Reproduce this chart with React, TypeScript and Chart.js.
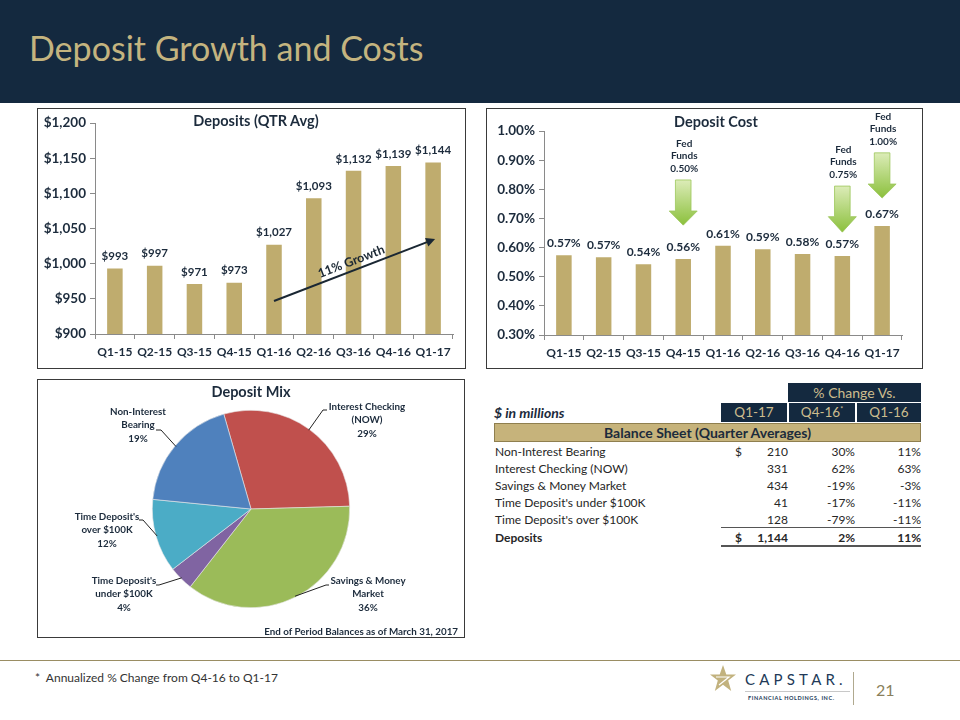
import React, { useEffect, useRef } from 'react';
import { Chart, registerables } from 'chart.js';
Chart.register(...registerables);

// ---------- data ----------
const QUARTERS = ['Q1-15', 'Q2-15', 'Q3-15', 'Q4-15', 'Q1-16', 'Q2-16', 'Q3-16', 'Q4-16', 'Q1-17'];
const DEPOSITS = [993, 997, 971, 973, 1027, 1093, 1132, 1139, 1144];
const DEPOSIT_TICKS = { min: 900, max: 1200, step: 50 };
const GROWTH_LABEL = '11% Growth';
const GROWTH_FROM = [4, 947];
const GROWTH_TO = [8.05, 1035];

const COST = [0.574, 0.567, 0.543, 0.561, 0.606, 0.594, 0.578, 0.571, 0.674];
const COST_TICKS = { min: 0.3, max: 1.0, step: 0.1 };
const FED_INDEX = [3, 7, 8];
const FED_RATE = ['0.50%', '0.75%', '1.00%'];
const FED_ARROW_TOP = [0.832, 0.811, 0.925];
const FED_ARROW_HEAD = [0.7255, 0.706, 0.818];
const FED_ARROW_TIP = [0.677, 0.653, 0.77];

const MIX_NAMES = [
  ['Interest Checking', '(NOW)'],
  ['Savings & Money', 'Market'],
  ["Time Deposit's", 'under $100K'],
  ["Time Deposit's", 'over $100K'],
  ['Non-Interest', 'Bearing'],
];
const MIX_VALUES = [29, 36, 4, 12, 19];
const MIX_COLORS = ['#c0504d', '#9bbb59', '#8064a2', '#4bacc6', '#4f81bd'];

const TABLE_ROWS = [
  'Non-Interest Bearing',
  'Interest Checking (NOW)',
  'Savings & Money Market',
  "Time Deposit's under $100K",
  "Time Deposit's over $100K",
];
const TABLE_Q117 = ['210', '331', '434', '41', '128'];
const TABLE_VS_Q416 = ['30%', '62%', '-19%', '-17%', '-79%'];
const TABLE_VS_Q116 = ['11%', '63%', '-3%', '-11%', '-11%'];
const TOTAL_ROW = ['Deposits', '1,144', '2%', '11%'];

// ---------- styles ----------
const NAVY = '#14293f';
const TEXT = '#1c2b3c';
const GOLD = '#bfac6e';
const TITLE_GOLD = '#c4b47f';
const AXIS = '#8a8a8a';
const FONT = 'Lato';

const pieLayout = [
  { elbow: [72, -99], end: [76, -99], text: [116, -102] },
  { elbow: [75, 76], end: [78, 76], text: [117, 72] },
  { elbow: [-92, 76], end: [-95, 76], text: [-127, 72] },
  { elbow: [-108, 11], end: [-112, 11], text: [-144, 8] },
  { elbow: [-90, -79], end: [-95, -79], text: [-113, -97] },
];

const valueLabels = (fmt: (v: number) => string, offset: number, size: number) => ({
  id: 'valueLabels',
  afterDatasetsDraw(chart: any) {
    const ctx = chart.ctx;
    const meta = chart.getDatasetMeta(0);
    const data = chart.data.datasets[0].data;
    ctx.save();
    ctx.font = `bold ${size}px ${FONT}`;
    ctx.fillStyle = TEXT;
    ctx.textAlign = 'center';
    ctx.textBaseline = 'middle';
    meta.data.forEach((bar: any, i: number) => ctx.fillText(fmt(data[i]), bar.x, bar.y - offset));
    ctx.restore();
  },
});

const growthArrow = {
  id: 'growthArrow',
  afterDatasetsDraw(chart: any) {
    const { ctx, scales } = chart;
    const x1 = scales.x.getPixelForValue(GROWTH_FROM[0]);
    const y1 = scales.y.getPixelForValue(GROWTH_FROM[1]);
    const x2 = scales.x.getPixelForValue(GROWTH_TO[0]);
    const y2 = scales.y.getPixelForValue(GROWTH_TO[1]);
    const a = Math.atan2(y2 - y1, x2 - x1);
    ctx.save();
    ctx.strokeStyle = '#1a2733';
    ctx.fillStyle = '#1a2733';
    ctx.lineWidth = 2;
    const hl = 9;
    ctx.beginPath();
    ctx.moveTo(x1, y1);
    ctx.lineTo(x2 - Math.cos(a) * hl * 0.8, y2 - Math.sin(a) * hl * 0.8);
    ctx.stroke();
    ctx.beginPath();
    ctx.moveTo(x2, y2);
    ctx.lineTo(x2 - Math.cos(a) * hl + Math.sin(a) * 4.5, y2 - Math.sin(a) * hl - Math.cos(a) * 4.5);
    ctx.lineTo(x2 - Math.cos(a) * hl - Math.sin(a) * 4.5, y2 - Math.sin(a) * hl + Math.cos(a) * 4.5);
    ctx.closePath();
    ctx.fill();
    const mx = (x1 + x2) / 2, my = (y1 + y2) / 2;
    ctx.translate(mx + Math.sin(a) * 9, my - Math.cos(a) * 9);
    ctx.rotate(a);
    ctx.font = `bold 12.5px ${FONT}`;
    ctx.textAlign = 'center';
    ctx.textBaseline = 'middle';
    ctx.fillText(GROWTH_LABEL, 0, 0);
    ctx.restore();
  },
};

const fedArrows = {
  id: 'fedArrows',
  afterDatasetsDraw(chart: any) {
    const { ctx, scales } = chart;
    FED_INDEX.forEach((idx, i) => {
      const cx = scales.x.getPixelForValue(idx);
      const top = scales.y.getPixelForValue(FED_ARROW_TOP[i]);
      const head = scales.y.getPixelForValue(FED_ARROW_HEAD[i]);
      const tip = scales.y.getPixelForValue(FED_ARROW_TIP[i]);
      const sw = 7.8, hw = 14;
      ctx.save();
      const g = ctx.createLinearGradient(0, top, 0, tip);
      g.addColorStop(0, '#dcecb8');
      g.addColorStop(1, '#8bc03c');
      ctx.fillStyle = g;
      ctx.strokeStyle = '#9cc75a';
      ctx.lineWidth = 0.8;
      ctx.beginPath();
      ctx.moveTo(cx - sw, top);
      ctx.lineTo(cx + sw, top);
      ctx.lineTo(cx + sw, head);
      ctx.lineTo(cx + hw, head);
      ctx.lineTo(cx, tip);
      ctx.lineTo(cx - hw, head);
      ctx.lineTo(cx - sw, head);
      ctx.closePath();
      ctx.fill();
      ctx.stroke();
      ctx.font = `bold 10px ${FONT}`;
      ctx.fillStyle = TEXT;
      ctx.textAlign = 'center';
      ctx.textBaseline = 'middle';
      const lines = ['Fed', 'Funds', FED_RATE[i]];
      lines.forEach((t, k) => ctx.fillText(t, cx + 1, top - 11.5 - (2 - k) * 12.5));
      ctx.restore();
    });
  },
};

const pieLabels = {
  id: 'pieLabels',
  afterDatasetsDraw(chart: any) {
    const ctx = chart.ctx;
    const meta = chart.getDatasetMeta(0);
    ctx.save();
    ctx.font = `bold 9.8px ${FONT}`;
    ctx.fillStyle = TEXT;
    ctx.strokeStyle = '#222';
    ctx.lineWidth = 1;
    ctx.textAlign = 'center';
    ctx.textBaseline = 'middle';
    meta.data.forEach((arc: any, i: number) => {
      const p = arc.getProps(['x', 'y', 'startAngle', 'endAngle', 'outerRadius']);
      const mid = (p.startAngle + p.endAngle) / 2;
      const L = pieLayout[i];
      const sx = p.x + Math.cos(mid) * (p.outerRadius - 1);
      const sy = p.y + Math.sin(mid) * (p.outerRadius - 1);
      ctx.beginPath();
      ctx.moveTo(sx, sy);
      ctx.lineTo(p.x + L.elbow[0], p.y + L.elbow[1]);
      ctx.lineTo(p.x + L.end[0], p.y + L.end[1]);
      ctx.stroke();
      const lines = [...MIX_NAMES[i], MIX_VALUES[i] + '%'];
      lines.forEach((t, k) => ctx.fillText(t, p.x + L.text[0], p.y + L.text[1] + k * 13.3));
    });
    ctx.restore();
  },
};

const xTickFont = { family: FONT, weight: 'bold' as const, size: 12 };
const yTickFont = { family: FONT, weight: 'bold' as const, size: 13.5 };

function barConfig(
  data: number[],
  ticks: { min: number; max: number; step: number },
  fmtTick: (v: number) => string,
  fmtLabel: (v: number) => string,
  labelSize: number,
  pad: { top: number; right: number },
  xH: number,
  extra: any[]
): any {
  return {
    type: 'bar',
    data: {
      labels: QUARTERS,
      datasets: [{ data, backgroundColor: GOLD, barPercentage: 0.39, categoryPercentage: 1 }],
    },
    options: {
      animation: false,
      responsive: false,
      maintainAspectRatio: false,
      layout: { padding: { top: pad.top, right: pad.right, left: 0, bottom: 0 } },
      plugins: { legend: { display: false }, tooltip: { enabled: false } },
      scales: {
        x: {
          grid: { drawOnChartArea: false, tickLength: 5, color: AXIS, offset: true },
          border: { color: AXIS },
          ticks: { color: TEXT, font: xTickFont, padding: 6, maxRotation: 0, autoSkip: false },
          afterFit: (s: any) => { s.height = xH; },
        },
        y: {
          min: ticks.min,
          max: ticks.max,
          grid: { drawOnChartArea: false, tickLength: 5, color: AXIS },
          border: { color: AXIS },
          ticks: { stepSize: ticks.step, color: TEXT, font: yTickFont, padding: 4, callback: (v: number) => fmtTick(v) },
          afterFit: (s: any) => { s.width = 57; },
        },
      },
    },
    plugins: [valueLabels(fmtLabel, 12, labelSize), ...extra],
  };
}

function ChartCanvas({ config, left, top, width, height }: any) {
  const ref = useRef<HTMLCanvasElement>(null);
  useEffect(() => {
    const c = new Chart(ref.current as HTMLCanvasElement, config());
    return () => c.destroy();
  }, []);
  return <canvas ref={ref} width={width} height={height} style={{ position: 'absolute', left, top, width, height }} />;
}

const abs = (s: React.CSSProperties): React.CSSProperties => ({ position: 'absolute', ...s });

export default function App() {
  const dollar = (v: number) => '$' + Math.round(v).toLocaleString('en-US');
  const pct = (v: number) => (Math.round(v * 100) / 100).toFixed(2) + '%';

  const rowY = [452, 469, 486, 503, 520];
  const cell: React.CSSProperties = { fontFamily: FONT, fontSize: 12, color: '#262626', lineHeight: '14px', whiteSpace: 'nowrap' };
  const head: React.CSSProperties = { background: NAVY, color: '#cdbd8e', fontSize: 13.5, textAlign: 'center', lineHeight: '19px' };

  return (
    <div style={abs({ left: 0, top: 0, width: 960, height: 720, background: '#fff', overflow: 'hidden', fontFamily: FONT })}>
      {/* header */}
      <div style={abs({ left: 0, top: 0, width: 960, height: 103, background: NAVY })} />
      <div style={abs({ left: 29, top: 27, fontSize: 34, color: TITLE_GOLD, fontFamily: FONT, lineHeight: '42px', whiteSpace: 'nowrap' })}>
        Deposit Growth and Costs
      </div>

      {/* panel borders */}
      <div style={abs({ left: 37, top: 108, width: 429, height: 261, border: '1px solid #3a3a3a', boxSizing: 'border-box' })} />
      <div style={abs({ left: 486, top: 108, width: 437, height: 261, border: '1px solid #3a3a3a', boxSizing: 'border-box' })} />
      <div style={abs({ left: 37, top: 379, width: 428, height: 259, border: '1px solid #3a3a3a', boxSizing: 'border-box' })} />

      <ChartCanvas
        left={38} top={109} width={427} height={259}
        config={() => barConfig(DEPOSITS, DEPOSIT_TICKS, dollar, dollar, 11.5, { top: 14, right: 12 }, 34, [growthArrow])}
      />
      <ChartCanvas
        left={487} top={109} width={435} height={259}
        config={() => barConfig(COST, COST_TICKS, (v) => v.toFixed(2) + '%', pct, 12, { top: 22, right: 20 }, 33, [fedArrows])}
      />
      <ChartCanvas
        left={38} top={380} width={426} height={257}
        config={() => ({
          type: 'pie',
          data: {
            labels: MIX_NAMES.map((n) => n.join(' ')),
            datasets: [{ data: MIX_VALUES, backgroundColor: MIX_COLORS, borderWidth: 0.6, borderColor: '#e8e8e8' }],
          },
          options: {
            animation: false,
            responsive: false,
            maintainAspectRatio: false,
            rotation: -16,
            layout: { padding: { left: 114, right: 114, top: 30, bottom: 29 } },
            plugins: { legend: { display: false }, tooltip: { enabled: false } },
          },
          plugins: [pieLabels],
        })}
      />

      {/* chart titles */}
      <div style={abs({ left: 156, top: 111, width: 200, textAlign: 'center', fontWeight: 700, fontSize: 14.5, color: TEXT, lineHeight: '19px' })}>Deposits (QTR Avg)</div>
      <div style={abs({ left: 616, top: 112, width: 200, textAlign: 'center', fontWeight: 700, fontSize: 14.5, color: TEXT, lineHeight: '19px' })}>Deposit Cost</div>
      <div style={abs({ left: 151, top: 382, width: 200, textAlign: 'center', fontWeight: 700, fontSize: 14.5, color: TEXT, lineHeight: '19px' })}>Deposit Mix</div>
      <div style={abs({ left: 200, top: 625, width: 258, textAlign: 'right', fontWeight: 700, fontSize: 9.8, color: TEXT, lineHeight: '13px', whiteSpace: 'nowrap' })}>
        End of Period Balances as of March 31, 2017
      </div>

      {/* table */}
      <div style={abs({ ...head, left: 788, top: 383, width: 133, height: 19, fontSize: 14 })}>% Change Vs.</div>
      <div style={abs({ left: 494, top: 404, fontSize: 14, fontWeight: 700, fontStyle: 'italic', color: '#1c2b3c', lineHeight: '18px' })}>$ in millions</div>
      <div style={abs({ ...head, left: 721, top: 403, width: 66, height: 19 })}>Q1-17</div>
      <div style={abs({ ...head, left: 789, top: 403, width: 66, height: 19 })}>
        Q4-16<sup style={{ fontSize: 7, verticalAlign: 'top', lineHeight: '12px' }}>*</sup>
      </div>
      <div style={abs({ ...head, left: 857, top: 403, width: 64, height: 19 })}>Q1-16</div>
      <div style={abs({ left: 494, top: 423, width: 427, height: 19, background: '#c6b37b', border: '1px solid #8f7f4f', boxSizing: 'border-box', textAlign: 'center', fontWeight: 700, fontSize: 14, color: TEXT, lineHeight: '17px' })}>
        Balance Sheet (Quarter Averages)
      </div>
      {TABLE_ROWS.map((r, i) => (
        <React.Fragment key={r}>
          <div style={abs({ ...cell, left: 495, top: rowY[i] - 7 })}>{r}</div>
          {i === 0 && <div style={abs({ ...cell, left: 735, top: rowY[i] - 7 })}>$</div>}
          <div style={abs({ ...cell, left: 740, width: 48, textAlign: 'right', top: rowY[i] - 7 })}>{TABLE_Q117[i]}</div>
          <div style={abs({ ...cell, left: 800, width: 55, textAlign: 'right', top: rowY[i] - 7 })}>{TABLE_VS_Q416[i]}</div>
          <div style={abs({ ...cell, left: 866, width: 55, textAlign: 'right', top: rowY[i] - 7 })}>{TABLE_VS_Q116[i]}</div>
        </React.Fragment>
      ))}
      <div style={abs({ left: 721, top: 527, width: 200, height: 1, background: '#555' })} />
      <div style={abs({ ...cell, fontWeight: 700, left: 495, top: 531 })}>{TOTAL_ROW[0]}</div>
      <div style={abs({ ...cell, fontWeight: 700, left: 735, top: 531 })}>$</div>
      <div style={abs({ ...cell, fontWeight: 700, left: 740, width: 48, textAlign: 'right', top: 531 })}>{TOTAL_ROW[1]}</div>
      <div style={abs({ ...cell, fontWeight: 700, left: 800, width: 55, textAlign: 'right', top: 531 })}>{TOTAL_ROW[2]}</div>
      <div style={abs({ ...cell, fontWeight: 700, left: 866, width: 55, textAlign: 'right', top: 531 })}>{TOTAL_ROW[3]}</div>
      <div style={abs({ left: 721, top: 545, width: 200, height: 1.5, background: '#555' })} />

      {/* footer */}
      <div style={abs({ left: 0, top: 660, width: 960, height: 1, background: '#9a8d63' })} />
      <div style={abs({ left: 35, top: 671, fontSize: 12, color: '#333', lineHeight: '14px', whiteSpace: 'nowrap' })}>*&nbsp; Annualized % Change from Q4-16 to Q1-17</div>
      <svg style={abs({ left: 709, top: 664 })} width={28} height={30} viewBox="0 0 28 30">
        <polygon points="14,1 17.3,10.5 27,10.5 19.2,16.6 22.2,27 14,20.8 5.8,27 8.8,16.6 1,10.5 10.7,10.5" fill="#c2b27e" />
        <path d="M7 13 L20 13 L10 21" stroke="#fff" strokeWidth="1.2" fill="none" />
      </svg>
      <div style={abs({ left: 745, top: 670, fontSize: 15, color: '#223a58', letterSpacing: 4.2, lineHeight: '18px', whiteSpace: 'nowrap' })}>CAPSTAR.</div>
      <div style={abs({ left: 745, top: 691, width: 105, height: 1, background: '#c8c8c8' })} />
      <div style={abs({ left: 748, top: 695, fontSize: 5.5, fontWeight: 700, color: '#223a58', letterSpacing: 0.6, lineHeight: '7px', whiteSpace: 'nowrap' })}>FINANCIAL HOLDINGS, INC.</div>
      <div style={abs({ left: 853, top: 672, width: 1, height: 33, background: '#b0a98f' })} />
      <div style={abs({ left: 876, top: 680, fontSize: 16, color: '#8a7f5c', lineHeight: '20px' })}>21</div>
    </div>
  );
}
